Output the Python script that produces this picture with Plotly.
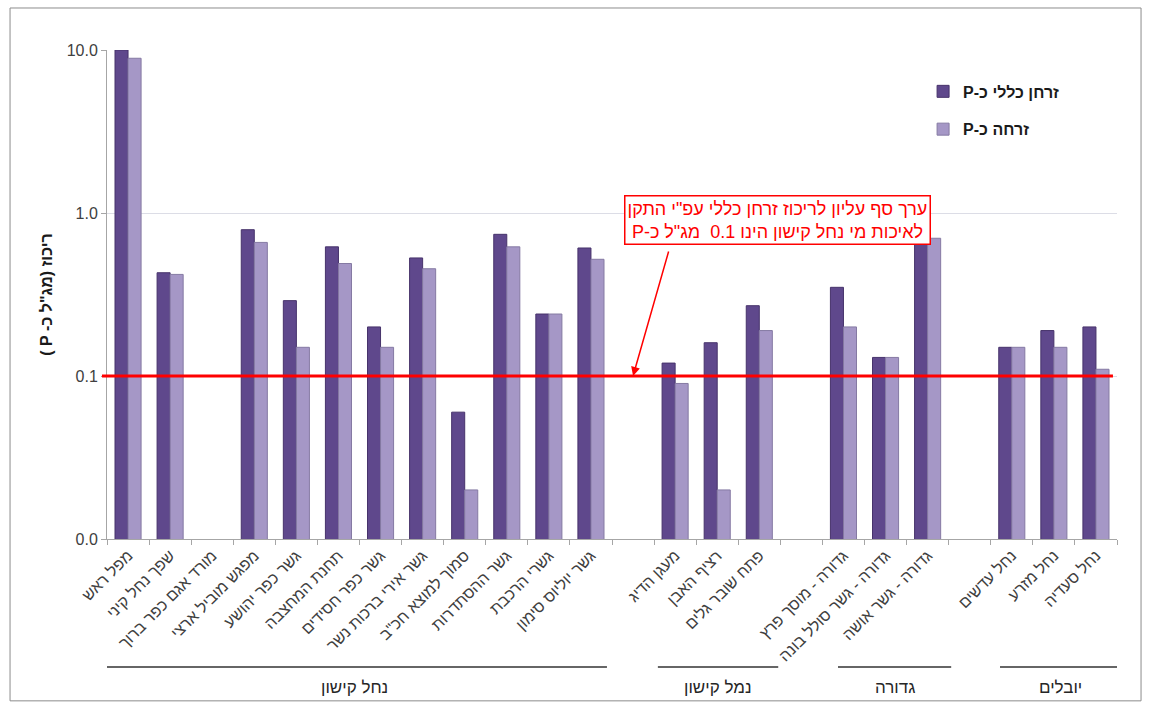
import math
import plotly.graph_objects as go

RLE, PDF = "\u202B", "\u202C"

# ---- data ----
GAP1, GAP2, GAP3 = "\u200b", "\u200b\u200b", "\u200b\u200b\u200b"
categories = [
    "מפל ראש", "שפך נחל קיני", "מורד אגם כפר ברוך", "מפגש מוביל ארצי",
    "גשר כפר יהושע", "תחנת המחצבה", "גשר כפר חסידים", "גשר אירי ברכות נשר",
    "סמוך למוצא חכ\"ב", "גשר ההסתדרות", "גשרי הרכבת", "גשר יוליוס סימון",
    GAP1,
    "מעגן הדיג", "רציף האבן", "פתח שובר גלים",
    GAP2,
    "גדורה - מוסך פרץ", "גדורה - גשר סולל בונה", "גדורה - גשר אושה",
    GAP3,
    "נחל עדשים", "נחל מזרע", "נחל סעדיה",
]
total_p = [10.0, 0.43, None, 0.79, 0.29, 0.62, 0.20, 0.53, 0.06, 0.74, 0.24, 0.61,
           None, 0.12, 0.16, 0.27, None, 0.35, 0.13, 0.80, None, 0.15, 0.19, 0.20]
phosphate_p = [8.9, 0.42, None, 0.66, 0.15, 0.49, 0.15, 0.455, 0.02, 0.62, 0.24, 0.52,
               None, 0.09, 0.02, 0.19, None, 0.20, 0.13, 0.70, None, 0.15, 0.15, 0.11]
series_names = ["זרחן כללי כ-P", "זרחה כ-P"]

y_tickvals = [0.01, 0.1, 1, 10]
y_ticktext = ["0.0", "0.1", "1.0", "10.0"]
threshold = 0.1

groups = ["נחל קישון", "נמל קישון", "גדורה", "יובלים"]
# group underline spans in category-index units (layout only)
group_span_start = [-0.62, 12.59, 16.87, 20.72]
group_span_end = [11.38, 15.45, 19.56, 23.60]

y_title = "ריכוז (מג\"ל כ- P )"
note_lines = ["ערך סף עליון לריכוז זרחן כללי עפ\"י התקן",
              "לאיכות מי נחל קישון הינו 0.1  מג\"ל כ-P"]

FONT = "Liberation Sans, Arial, DejaVu Sans, sans-serif"
dark_col, light_col = "#5f488c", "#a597c6"

fig = go.Figure()
fig.add_trace(go.Bar(x=categories, y=total_p, name=RLE + series_names[0] + PDF,
                     legendgroup="a",
                     marker=dict(color=dark_col, line=dict(color="#47336b", width=1))))
fig.add_trace(go.Bar(x=categories, y=phosphate_p, name=RLE + series_names[1] + PDF,
                     legendgroup="b",
                     marker=dict(color=light_col, line=dict(color="#857aa3", width=1))))

shapes = []
# threshold line (data value on the log axis)
shapes.append(dict(type="line", xref="paper", yref="y", x0=-0.005, x1=0.996,
                   y0=threshold, y1=threshold,
                   line=dict(color="#ff0000", width=3), layer="above"))
# outer frame
shapes.append(dict(type="rect", xref="paper", yref="paper", x0=-0.096, x1=1.0238,
                   y0=-0.331, y1=1.0859, line=dict(color="#8c8c8c", width=1)))

annotations = []
for g, s, e in zip(groups, group_span_start, group_span_end):
    shapes.append(dict(type="line", xref="x", yref="paper", x0=s, x1=e,
                       y0=-0.262, y1=-0.262, line=dict(color="#333333", width=1.5)))
    annotations.append(dict(xref="x", yref="paper", x=(s + e) / 2, y=-0.303,
                            yanchor="middle",
                            text=RLE + g + PDF, showarrow=False,
                            font=dict(family=FONT, size=17, color="#262626")))

# arrow pointing at threshold line
annotations.append(dict(xref="x", yref="y", x=GAP1, y=math.log10(threshold),
                        text="", showarrow=True, ax=36, ay=-126,
                        arrowhead=2, arrowsize=1.2, arrowwidth=1.5, arrowcolor="#ff0000"))
# note box
annotations.append(dict(xref="paper", yref="paper", x=0.664, y=0.652,
                        text="<br>".join(RLE + t + PDF for t in note_lines),
                        showarrow=False, align="center",
                        font=dict(family=FONT, size=18, color="#ff0000"),
                        bgcolor="white", bordercolor="#ff0000", borderwidth=1.5,
                        borderpad=2))

fig.update_layout(
    width=1150, height=705,
    margin=dict(l=107, r=33, t=50, b=166),
    paper_bgcolor="white", plot_bgcolor="white",
    barmode="group", bargap=0.38, bargroupgap=0,
    font=dict(family=FONT, color="#404040"),
    showlegend=True,
    legend=dict(x=0.808, y=0.95, xanchor="left", yanchor="top",
                traceorder="grouped", tracegroupgap=14,
                font=dict(family=FONT, size=16, color="#1a1a1a", weight="bold"),
                bgcolor="rgba(0,0,0,0)"),
    shapes=shapes, annotations=annotations,
)
fig.update_xaxes(type="category", categoryorder="array", categoryarray=categories,
                 range=[-0.5, len(categories) - 0.5],
                 showline=True, linecolor="#a6a6a6", linewidth=1,
                 ticks="outside", tickson="boundaries", ticklen=5, tickcolor="#a6a6a6",
                 tickangle=-45, tickfont=dict(family=FONT, size=16, color="#404040"),
                 showgrid=False)
fig.update_yaxes(type="log", range=[-2, 1], tickvals=y_tickvals, ticktext=y_ticktext,
                 showline=True, linecolor="#a6a6a6", linewidth=1,
                 ticks="outside", ticklen=5, tickcolor="#a6a6a6",
                 tickfont=dict(family=FONT, size=16, color="#404040"),
                 gridcolor="#dcdde6", gridwidth=1,
                 title=dict(text=RLE + y_title + PDF, standoff=10,
                            font=dict(family=FONT, size=16, color="#1a1a1a", weight="bold")))

fig.write_html("out.html")
